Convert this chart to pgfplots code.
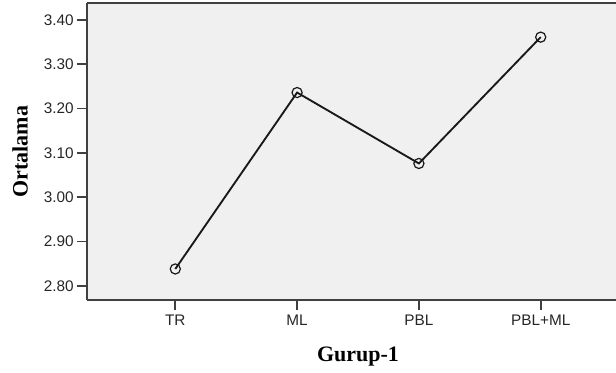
\documentclass[border=0pt]{standalone}
\usepackage{fontspec}
\setmainfont{Liberation Sans}
\newfontfamily\labelfont{Liberation Serif}
\usepackage{pgfplots}
\pgfplotsset{compat=1.18}
\definecolor{plotbg}{HTML}{F0F0F0}
\definecolor{frame}{HTML}{404040}

\begin{document}
\begin{tikzpicture}[x=0.75pt,y=0.75pt]
\begin{axis}[
  at={(0,0)}, anchor=south west,
  scale only axis,
  width=406.5pt, height=222.75pt,
  xmin=-0.725, xmax=3.725,
  ymin=2.768, ymax=3.438,
  axis background/.style={fill=plotbg},
  axis line style={draw=none},
  xtick={0,1,2,3},
  xticklabels={TR,ML,PBL,PBL+ML},
  ytick={2.8,2.9,3.0,3.1,3.2,3.3,3.4},
  y tick label style={/pgf/number format/fixed, /pgf/number format/fixed zerofill, /pgf/number format/precision=2, xshift=1pt},
  /pgf/number format/assume math mode=true,
  tick style={draw=frame, line width=1.4pt},
  tick align=outside,
  major tick length=7.5pt,
  xtick pos=bottom, ytick pos=left,
  ticklabel style={font=\fontsize{11.5}{13}\selectfont, text=black!85},
  x tick label style={yshift=0pt},
  xlabel={\labelfont\bfseries Gurup-1},
  ylabel={\labelfont\bfseries Ortalama},
  xlabel style={at={(axis description cs:0.5,-0.189)}, anchor=center, font=\fontsize{16.5}{19}\selectfont},
  ylabel style={at={(axis description cs:-0.1236,0.5)}, anchor=center, font=\fontsize{16.5}{19}\selectfont},
  clip=false,
]
\addplot[black!90, line width=1.4pt, mark=o, mark size=3.8pt, mark options={line width=0.9pt, fill=none}]
  coordinates {(0,2.838) (1,3.236) (2,3.076) (3,3.361)};
\draw[frame, line width=1.6pt] (axis description cs:0,0) -- (axis description cs:0,1);
\draw[frame, line width=1.6pt] (axis description cs:0,0) -- (axis description cs:1,0);
\draw[frame, line width=1.6pt] (axis description cs:0,1) -- (axis description cs:1,1);
\end{axis}
\pgfresetboundingbox
\useasboundingbox (-87,-72) rectangle (529,300);
\end{tikzpicture}
\end{document}
